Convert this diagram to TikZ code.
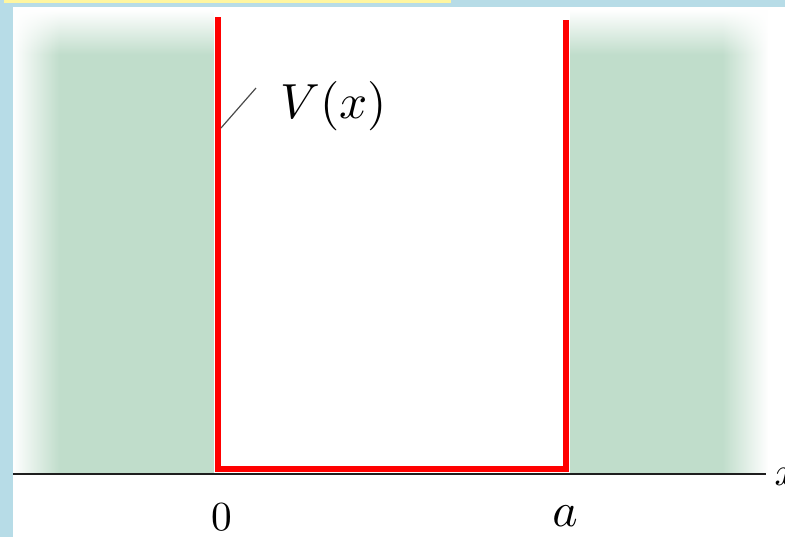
\documentclass[tikz,border=0pt]{standalone}
\usepackage{amsmath}
\usetikzlibrary{fadings}
\definecolor{bgblue}{RGB}{183,220,231}
\definecolor{hiyellow}{RGB}{255,246,160}
\definecolor{wellgreen}{RGB}{192,221,203}
\definecolor{wallred}{RGB}{255,0,0}
\definecolor{axisgray}{RGB}{30,30,30}
\tikzset{
  wall/.style={draw=wallred, line width=5.2pt, line join=miter},
  axisline/.style={draw=axisgray, line width=1.8pt},
  leader/.style={draw=axisgray!80, line width=0.9pt},
  lbl/.style={inner sep=0pt, anchor=center, font=\fontsize{10}{12}\selectfont}
}
\begin{document}
\begin{tikzpicture}[x=0.75pt, y=-0.75pt]
\useasboundingbox (0,0) rectangle (785,537);
% frame
\fill[bgblue] (0,0) rectangle (785,537);
\fill[white] (13,7) rectangle (785,537);
\fill[hiyellow] (4,0) rectangle (451,2.5);
% left green region
\fill[wellgreen] (13,10) rectangle (214,473);
\fill[white, path fading=east] (13,10) rectangle (60,473);
\fill[white, path fading=south] (13,10) rectangle (214,55);
% right green region
\fill[wellgreen] (570,10) rectangle (768,473);
\fill[white, path fading=west] (722,10) rectangle (768,473);
\fill[white, path fading=south] (570,10) rectangle (768,55);
% walls
\draw[wall] (218,17) -- (218,469) -- (566,469) -- (566,20);
% axis
\coordinate (axL) at (13,474);
\coordinate (axR) at (766,474);
\draw[axisline] (axL) -- (axR);
% labels
\node[lbl, scale=3.1] (zero) at (222,517) {0};
\node[lbl, scale=3.6] (aa) at (565,516) {$a$};
\node[lbl, scale=3.0] (xx) at (786,477) {$x$};
\node[lbl, scale=3.7] (V) at (334,106) {$V(x)$};
\coordinate (wallpt) at (221,128);
\coordinate (leadend) at (256,88);
\draw[leader] (wallpt) -- (leadend);
\end{tikzpicture}
\end{document}
